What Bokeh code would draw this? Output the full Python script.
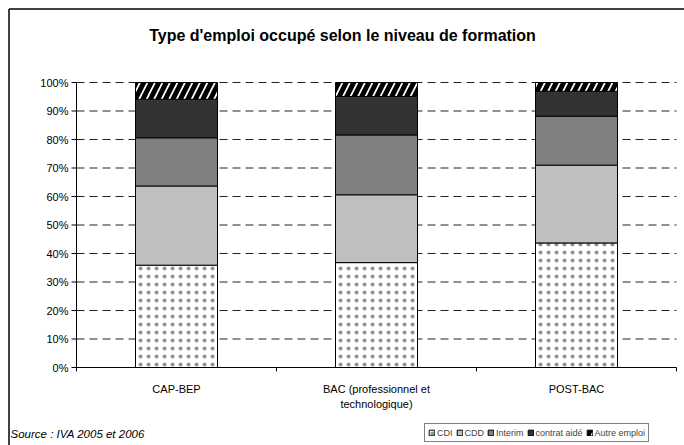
import numpy as np
from bokeh.plotting import figure
from bokeh.models import Range1d, Legend, LegendItem
from bokeh.core.properties import value
from bokeh.embed import file_html
from bokeh.resources import INLINE

categories = ["CAP-BEP", "BAC (professionnel et\ntechnologique)", "POST-BAC"]
series = ["CDI", "CDD", "Interim", "contrat aidé", "Autre emploi"]
cdi = [35.9, 36.8, 43.7]
cdd = [27.8, 23.8, 27.3]
interim = [16.9, 21.0, 17.2]
contrat_aide = [13.5, 13.5, 8.7]
autre = [5.9, 4.9, 3.1]
y_ticks = list(range(0, 101, 10))
y_tick_labels = [f"{t}%" for t in y_ticks]
title = "Type d'emploi occupé selon le niveau de formation"
source = "Source : IVA 2005 et 2006"

values = [cdi, cdd, interim, contrat_aide, autre]
fills = ["white", "#C0C0C0", "#808080", "#333333", "white"]
hatches = ["dot", None, None, None, "right_diagonal_line"]

FONT = "Liberation Sans"
W, H = 684, 445
PX_X = 200.0   # pixels per category
PX_Y = 2.85    # pixels per percent
X0, Y0 = 76, 367  # pixel position of the axes origin

def dx(px):
    return px / PX_X

def dy(px):
    return px / PX_Y

p = figure(width=W, height=H, output_backend="svg", toolbar_location=None,
           x_range=Range1d(-dx(X0), dx(W - X0)), y_range=Range1d(-dy(H - Y0), dy(Y0)),
           min_border=0, min_border_left=0, min_border_right=0,
           min_border_top=0, min_border_bottom=0)
p.xaxis.visible = False
p.yaxis.visible = False
p.xgrid.visible = False
p.ygrid.visible = False
p.outline_line_color = None
p.background_fill_color = "white"
p.border_fill_color = "white"

n = len(categories)
xs = np.arange(n) + 0.5

# chart border (top and left visible in the window)
bx, by = dx(8.5 - X0), dy(Y0 - 8.5)
p.segment(x0=[bx, bx], y0=[by, by], x1=[bx, dx(W - X0)], y1=[-dy(H - Y0), by],
          line_color="black", line_width=1.5)

# dashed gridlines
g = y_ticks[1:]
p.segment(x0=[0] * len(g), y0=g, x1=[n] * len(g), y1=g,
          line_color="#222222", line_width=1, line_dash="8 5")

# stacked bars
bottom = np.zeros(n)
renderers = []
for name, vals, fc, hp in zip(series, values, fills, hatches):
    top = bottom + np.array(vals)
    kw = {}
    if hp == "dot":
        kw = dict(hatch_pattern="dot", hatch_color="#777777", hatch_scale=8,
                  hatch_weight=0.8, hatch_alpha=0.8)
    elif hp:
        kw = dict(hatch_pattern=hp, hatch_color="black", hatch_scale=15, hatch_weight=5)
    r = p.vbar(x=xs, bottom=bottom, top=top, width=0.41, fill_color=fc,
               line_color="black", line_width=1, **kw)
    renderers.append(r)
    bottom = top

# axes lines and ticks
p.segment(x0=[0, 0], y0=[0, 0], x1=[0, n], y1=[100, 0], line_color="black", line_width=1)
p.segment(x0=[-dx(5)] * len(y_ticks), y0=y_ticks, x1=[0] * len(y_ticks), y1=y_ticks,
          line_color="black", line_width=1)
cat_edges = list(range(n + 1))
p.segment(x0=cat_edges, y0=[0] * (n + 1), x1=cat_edges, y1=[-dy(4)] * (n + 1),
          line_color="black", line_width=1)

# tick labels
p.text(x=[-dx(8)] * len(y_ticks), y=y_ticks, text=y_tick_labels,
       text_font=value(FONT), text_font_size="11px", text_align="right",
       text_baseline="middle", text_color="black")
p.text(x=xs, y=[-dy(15)] * n, text=categories,
       text_font=value(FONT), text_font_size="11px", text_align="center",
       text_baseline="top", text_color="black", text_line_height=1.3)

# title and source
p.text(x=[dx(342 - X0)], y=[dy(Y0 - 35)], text=[title], text_font=value(FONT),
       text_font_size="16px", text_font_style="bold", text_align="center",
       text_baseline="middle", text_color="black")
p.text(x=[dx(10 - X0)], y=[-dy(433 - Y0)], text=[source], text_font=value(FONT),
       text_font_size="11.5px", text_font_style="italic", text_align="left",
       text_baseline="middle", text_color="black")

legend = Legend(items=[LegendItem(label=s, renderers=[r]) for s, r in zip(series, renderers)],
                orientation="horizontal", location=(424, 3),
                glyph_width=7, glyph_height=7, label_standoff=2, spacing=3,
                label_width=1, padding=3, margin=0, label_text_font=FONT,
                label_text_font_size="9px", label_height=11,
                border_line_color="black", border_line_width=1,
                background_fill_color="white", background_fill_alpha=1)
p.add_layout(legend, "center")

open("out.html", "w").write(file_html(p, INLINE))
